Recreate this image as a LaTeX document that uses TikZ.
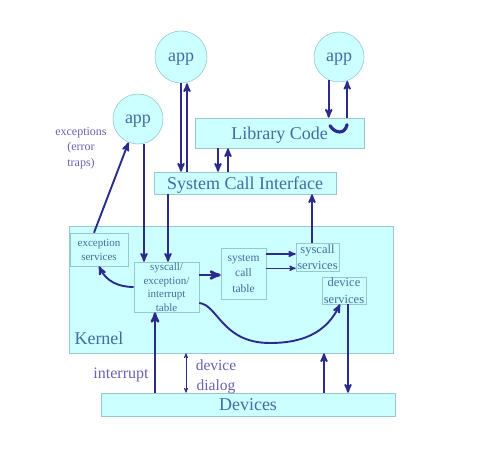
\documentclass[tikz,border=0pt]{standalone}
\usepackage{fontspec}
\setmainfont{Liberation Serif}
\usetikzlibrary{arrows}
\definecolor{boxfill}{HTML}{CCFFFF}
\definecolor{boxline}{HTML}{96C8CC}
\definecolor{boxtext}{HTML}{3F6F9F}
\definecolor{labeltext}{HTML}{6F5FB0}
\definecolor{flowline}{HTML}{2B2B8C}

\begin{document}
\begin{tikzpicture}[>=stealth',x=1pt,y=-1pt,
                    proc/.style={circle,draw=boxline,fill=boxfill,semithick,text=boxtext,text depth=0pt,
                                 minimum size=52pt,inner sep=0pt,font=\fontsize{18}{18}\selectfont},
                    bigbox/.style={rectangle,draw=boxline,fill=boxfill,semithick,text=boxtext,text depth=0pt,
                                   inner sep=0pt,font=\fontsize{18}{18}\selectfont},
                    smallbox/.style={rectangle,draw=boxline,fill=boxfill,semithick,text=boxtext,
                                     inner sep=0pt,align=center},
                    tag/.style={text=labeltext,align=center,inner sep=0pt},
                    flow/.style={->,flowline,line width=1.9pt},
                    thinflow/.style={<->,flowline,line width=.7pt}]
  \useasboundingbox (0,0) rectangle (481,457);

  \node[bigbox,minimum width=324pt,minimum height=127pt] (kernel) at (231,289.5) {};
  \node[bigbox,minimum width=294pt,minimum height=23pt]  (devices) at (248,404.5) {Devices};
  \node[bigbox,minimum width=169pt,minimum height=30pt]  (lib) at (279.5,133) {Library Code};
  \node[bigbox,minimum width=182pt,minimum height=22pt]  (sci) at (245,183) {System Call Interface};

  \node[proc] (appa) at (181,57) {app};
  \node[proc,minimum size=50pt] (appb) at (138,119) {app};
  \node[proc,minimum size=50pt] (appc) at (339,57) {app};

  \node[smallbox,minimum width=58pt,minimum height=33pt,
        font=\fontsize{11}{14}\selectfont] (excserv) at (99,249.5) {exception\\services};
  \node[smallbox,minimum width=65pt,minimum height=50pt,
        font=\fontsize{11}{13.5}\selectfont] (table) at (166.5,287) {syscall/\\exception/\\interrupt\\table};
  \node[smallbox,minimum width=45pt,minimum height=51pt,
        font=\fontsize{11.5}{15.5}\selectfont] (calltable) at (243.5,273.5) {system\\call\\table};
  \node[smallbox,minimum width=43pt,minimum height=28pt,
        font=\fontsize{12.5}{16}\selectfont] (syserv) at (317.5,257) {syscall\\services};
  \node[smallbox,minimum width=44pt,minimum height=27pt,
        font=\fontsize{12.5}{16.5}\selectfont] (devserv) at (344,290.5) {device\\services};

  \node[text=boxtext,inner sep=0pt,text depth=0pt,font=\fontsize{18}{18}\selectfont] (kname) at (99,338) {Kernel};
  \node[tag,font=\fontsize{12}{15.5}\selectfont] (exc) at (81,148) {exceptions\\(error\\traps)};
  \node[tag,font=\fontsize{16}{16}\selectfont] (intr) at (121,375) {interrupt};
  \node[tag,font=\fontsize{15.5}{20}\selectfont] (dial) at (216,377) {device\\dialog};

  \draw[flow] (appa.south) -- (appa.south |- sci.north);
  \draw[flow] ([xshift=6pt]sci.north -| appa.south) -- ([xshift=6pt]appa.south);
  \draw[flow] (appc.-114) -- (appc.-114 |- lib.north);
  \draw[flow] (appc.-71 |- lib.north) -- (appc.-71);
  \draw[flow] ([xshift=-61.5pt]lib.south) -- ([xshift=-61.5pt]lib.south |- sci.north);
  \draw[flow] ([xshift=-51.5pt]lib.south |- sci.north) -- ([xshift=-51.5pt]lib.south);
  \draw[flowline,line width=3.2pt,line cap=round] ([xshift=-9pt,yshift=-8pt]appc.south |- lib.north)
        .. controls ([xshift=-4pt,yshift=-16pt]appc.south |- lib.north)
        and ([xshift=6pt,yshift=-17pt]appc.south |- lib.north)
        .. ([xshift=8pt,yshift=-7pt]appc.south |- lib.north);

  \draw[flow] ([xshift=-5pt]excserv.north) -- (appb.-112);
  \draw[flow] ([xshift=6pt]appb.south) -- ([xshift=-22.5pt]table.north);
  \draw[flow] ([xshift=-77pt]sci.south) -- ([xshift=1.5pt]table.north);
  \draw[flow,line width=2.6pt] ([yshift=-1.5pt]calltable.west -| table.east) -- ([yshift=-1.5pt]calltable.west);
  \draw[flow] (table.west) .. controls (118,287) and (106,281) .. (excserv.south);
  \draw[flow] ([yshift=-16pt]table.east) .. controls (218,305) and (222,343) .. (270,343)
        .. controls (308,343) and (328,329) .. ([xshift=-4pt]devserv.south);
  \draw[flow,line width=1.5pt] ([yshift=3pt]syserv.west -| calltable.east) -- ([yshift=3pt]syserv.west);
  \draw[flow,line width=1.2pt] ([yshift=3pt]syserv.south -| calltable.east) -- ([yshift=3pt]syserv.south west);
  \draw[flow] ([xshift=-5.5pt]syserv.north) -- ([xshift=-5.5pt]syserv.north |- sci.south);
  \draw[flow] ([xshift=4pt]devserv.south) -- ([xshift=4pt]devserv.south |- devices.north);
  \draw[flow] ([xshift=76pt]devices.north) -- ([xshift=76pt]devices.north |- kernel.south);
  \draw[flow,line width=2.4pt] ([xshift=-93pt]devices.north) -- ([xshift=-11.5pt]table.south);
  \draw[thinflow] ([xshift=-45pt]kernel.south) -- ([xshift=-45pt]kernel.south |- devices.north);
\end{tikzpicture}
\end{document}
